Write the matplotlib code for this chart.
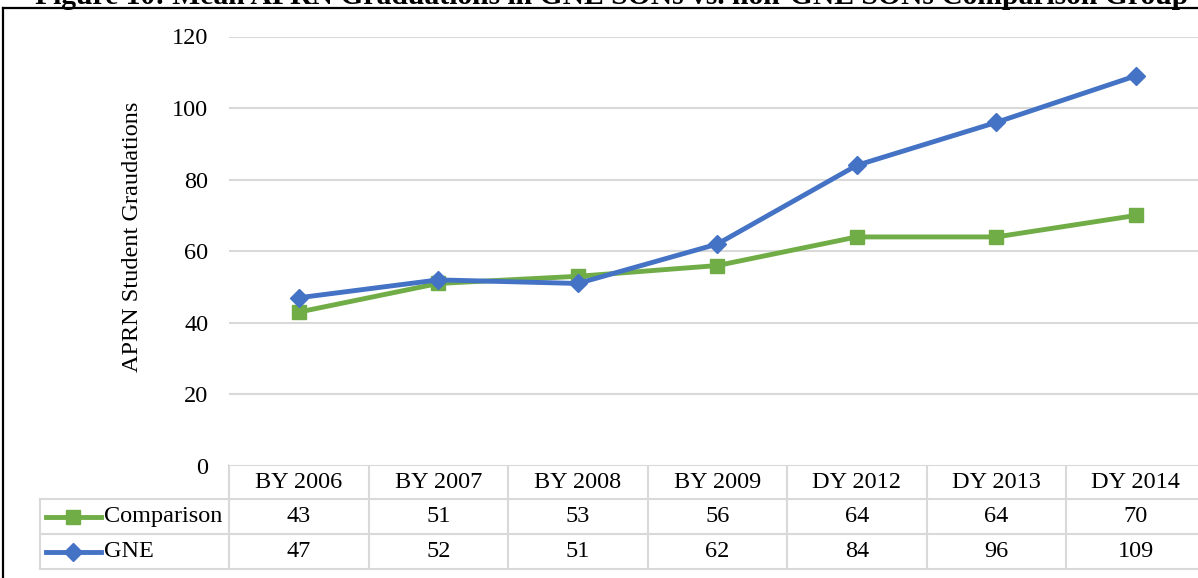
import numpy as np
import matplotlib.pyplot as plt

# chart data
categories = ['BY 2006', 'BY 2007', 'BY 2008', 'BY 2009', 'DY 2012', 'DY 2013', 'DY 2014']
comparison = [43, 51, 53, 56, 64, 64, 70]
gne = [47, 52, 51, 62, 84, 96, 109]
series_names = ['Comparison', 'GNE']
series_colors = ['#70AD47', '#4472C4']
series_markers = ['s', 'D']
title = 'Figure 10: Mean APRN Graduations in GNE SONs vs. non-GNE SONs Comparison Group'
ylabel = 'APRN Student Graudations'

W, H = 1198, 578
FS = 17.5
plt.rcParams['font.family'] = ['Liberation Serif', 'DejaVu Serif']
fig = plt.figure(figsize=(W / 100, H / 100), dpi=100)


def fx(px):
    return px / W


def fy(py):
    return 1 - py / H


# main plot (right side runs a little past the picture, like the cropped original)
ax = fig.add_axes([fx(229), fy(466), fx(976.5), (466 - 36.5) / H])
x = np.arange(len(categories))
series = [comparison, gne]
msizes = [10.5, 9.5]
for vals, name, col, mk, ms in zip(series, series_names, series_colors, series_markers, msizes):
    ax.plot(x, vals, color=col, lw=3.5, marker=mk, ms=ms, label=name)
ax.set_xlim(-0.5, len(categories) - 0.5)
ax.set_ylim(0, 120)
ax.set_yticks(range(0, 121, 20))
ax.set_xticks([])
ax.grid(axis='y', color='#d9d9d9', lw=1.5)
ax.set_axisbelow(True)
ax.tick_params(axis='y', length=0, pad=15, labelsize=FS)
for s in ax.spines.values():
    s.set_visible(False)

fig.text(fx(133), fy(237), ylabel, rotation=90, ha='center', va='center', fontsize=FS)

# data table under the plot, drawn in pixel space
tab = fig.add_axes([0, 0, 1, 1], zorder=-1)
tab.set_xlim(0, W)
tab.set_ylim(H, 0)
tab.axis('off')

edges = ax.transData.transform([(i - 0.5, 0) for i in range(len(categories) + 1)])[:, 0]
centers = (edges[:-1] + edges[1:]) / 2
rows = [465, 499, 534, 569]
gcol = '#d9d9d9'
right = W + 20

tab.plot([edges[0], right], [rows[0]] * 2, color=gcol, lw=1.5)
for r in rows[1:]:
    tab.plot([40, right], [r, r], color=gcol, lw=1.5)
tab.plot([40, 40], [rows[1], rows[3]], color=gcol, lw=1.5)
for e in edges:
    tab.plot([e, e], [rows[0], rows[3]], color=gcol, lw=1.5)

hy = (rows[0] + rows[1]) / 2
for cx, lab in zip(centers, categories):
    tab.text(cx, hy, lab, ha='center', va='center', fontsize=FS)

for k, (vals, name, col, mk, ms) in enumerate(zip(series, series_names, series_colors, series_markers, msizes)):
    ry = (rows[k + 1] + rows[k + 2]) / 2
    tab.plot([46, 101], [ry, ry], color=col, lw=3.5)
    tab.plot([73], [ry], color=col, marker=mk, ms=ms)
    tab.text(104, ry, name, ha='left', va='center', fontsize=FS)
    for cx, v in zip(centers, vals):
        tab.text(cx, ry, str(v), ha='center', va='center', fontsize=FS)

# frame and the caption, clipped at the top edge as in the source
tab.plot([3, 3], [8, H + 5], color='black', lw=1.6)
tab.plot([3, W + 5], [8, 8], color='black', lw=1.6)
fig.text(fx(35), fy(4), title, fontweight='bold', fontsize=21.3, va='baseline', ha='left')

fig.savefig('out.png', dpi=100)
